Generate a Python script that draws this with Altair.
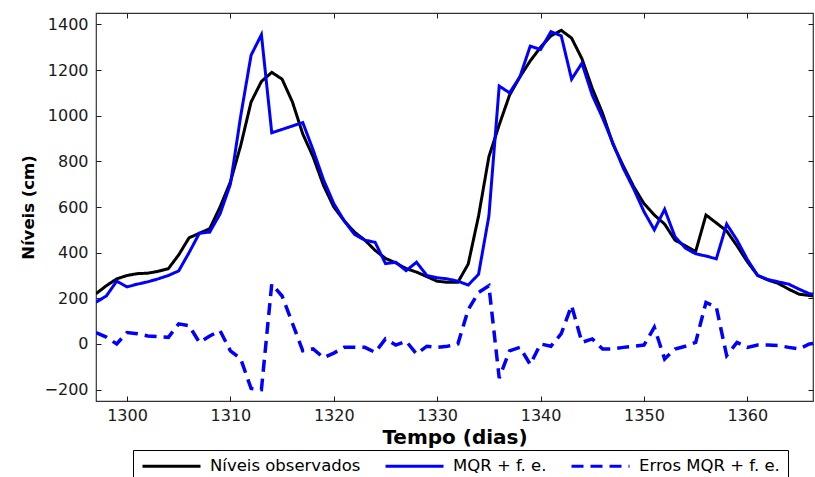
import altair as alt
import pandas as pd

days = list(range(1297, 1368))

observed = [220, 255, 285, 300, 308, 310, 318, 330, 390, 465, 485, 505, 600, 710, 870,
            1060, 1150, 1190, 1160, 1060, 920, 820, 695, 600, 540, 490, 455, 410, 375, 355,
            330, 315, 295, 275, 270, 270, 350, 560, 820, 960, 1090, 1170, 1240, 1300, 1350,
            1374, 1340, 1250, 1120, 1010, 875, 780, 690, 615, 565, 525, 455, 430, 405, 565,
            530, 495, 430, 360, 300, 280, 265, 240, 218, 212, 210]

mqr = [183, 210, 275, 250, 262, 272, 285, 300, 320, 400, 485, 490, 570, 700, 1000,
       1265, 1355, 925, 940, 955, 970, 850, 720, 615, 540, 480, 455, 445, 352, 358,
       321, 358, 300, 290, 285, 275, 258, 305, 560, 1130, 1100, 1170, 1305, 1290, 1368,
       1350, 1160, 1230, 1090, 990, 880, 770, 680, 580, 500, 590, 470, 420, 395, 385,
       373, 525, 455, 370, 300, 282, 272, 262, 240, 220, 215]

errors = [50, 30, 0, 50, 45, 35, 32, 29, 88, 80, 7, 35, 58, -30, -66,
          -195, -200, 263, 210, 90, -30, -22, -60, -40, -15, -15, -15, -37, 22, -5,
          12, -44, -10, -15, -10, 0, 150, 225, 255, -150, -30, -15, -90, 0, -10,
          45, 168, 7, 22, -22, -22, -15, -10, -5, 73, -66, -22, -10, 7, 182,
          161, -51, 7, -15, -5, -5, -7, -15, -22, 0, 5]

series_names = ["Níveis observados", "MQR + f. e.", "Erros MQR + f. e."]
series_colors = ["#000000", "#0000ff", "#0000ff"]
series_dashes = [[1, 0], [1, 0], [12, 7]]

x_ticks = [1300, 1310, 1320, 1330, 1340, 1350, 1360]
y_ticks = [-200, 0, 200, 400, 600, 800, 1000, 1200, 1400]

rows = []
for name, vals in zip(series_names, [observed, mqr, errors]):
    for d, v in zip(days, vals):
        rows.append({"dia": d, "valor": v, "serie": name})
df = pd.DataFrame(rows)

FONT = "DejaVu Sans"
INK = "#1a1a1a"

x_scale = alt.Scale(domain=[1297, 1366.35], nice=False, zero=False)
y_scale = alt.Scale(domain=[-250, 1450], nice=False, zero=False)

legend = alt.Legend(
    orient="none", legendX=37, legendY=437, direction="horizontal", columns=3,
    symbolType="stroke", symbolSize=3364, symbolStrokeWidth=3, clipHeight=16,
    labelFont=FONT, labelFontSize=16.5, labelColor="#000000", labelOffset=8,
    labelLimit=400, columnPadding=23, padding=8,
    strokeColor="#000000", fillColor="#ffffff",
)

color = alt.Color("serie:N", title=None,
                  scale=alt.Scale(domain=series_names, range=series_colors),
                  legend=legend)
dash = alt.StrokeDash("serie:N", title=None,
                      scale=alt.Scale(domain=series_names, range=series_dashes),
                      legend=legend)

x_main = alt.X("dia:Q", scale=x_scale, title="Tempo (dias)", axis=alt.Axis(
    orient="bottom", values=x_ticks, format="d", offset=-5, tickSize=5,
    tickColor=INK, domain=False, grid=False, labelPadding=6,
    labelFont=FONT, labelFontSize=16, labelColor=INK, labelFlush=False,
    titleFont=FONT, titleFontSize=20, titleFontWeight="bold", titleColor="#000000",
    titleY=47, titleBaseline="alphabetic"))
y_main = alt.Y("valor:Q", scale=y_scale, title="Níveis (cm)", axis=alt.Axis(
    orient="left", values=y_ticks, format="d", offset=-5, tickSize=5,
    tickColor=INK, domain=False, grid=False, labelPadding=8,
    labelFont=FONT, labelFontSize=16, labelColor=INK, labelFlush=False,
    titleFont=FONT, titleFontSize=16.5, titleFontWeight="bold", titleColor="#000000",
    titleAngle=270, titleX=-68, titleY=194, titleBaseline="alphabetic"))

x_top = alt.X("dia:Q", scale=x_scale, title="", axis=alt.Axis(
    orient="top", values=x_ticks, offset=-5, tickSize=5, tickColor=INK,
    domain=False, grid=False, labels=False))
y_right = alt.Y("valor:Q", scale=y_scale, title="", axis=alt.Axis(
    orient="right", values=y_ticks, offset=-5, tickSize=5, tickColor=INK,
    domain=False, grid=False, labels=False))

base = alt.Chart(df)

obs_line = base.transform_filter(alt.datum.serie == series_names[0]).mark_line(
    strokeWidth=3, clip=True).encode(x=x_main, y=y_main, color=color, strokeDash=dash)
mqr_line = base.transform_filter(alt.datum.serie == series_names[1]).mark_line(
    strokeWidth=3, clip=True).encode(x=x_main, y=y_main, color=color, strokeDash=dash)
err_line = base.transform_filter(alt.datum.serie == series_names[2]).mark_line(
    strokeWidth=3.5, clip=True).encode(x=x_top, y=y_right, color=color, strokeDash=dash)

chart = alt.layer(alt.layer(obs_line, mqr_line), err_line).resolve_axis(
    x="independent", y="independent"
).properties(
    width=717, height=388,
    padding={"left": 96, "top": 13, "right": 2, "bottom": 76},
    autosize=alt.AutoSizeParams(type="none"),
    background="#ffffff",
).configure_view(stroke="#333333", strokeWidth=1.2)

chart.save("out.html", embed_options={"renderer": "svg", "actions": False})
